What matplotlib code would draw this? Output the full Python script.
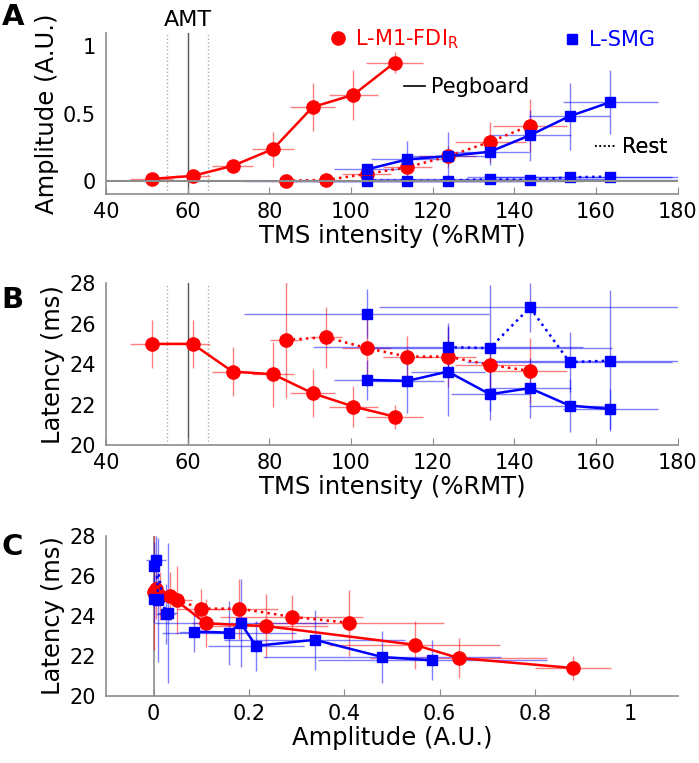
import matplotlib
matplotlib.use('Agg')
import matplotlib.pyplot as plt
from matplotlib.lines import Line2D
import numpy as np

plt.rcParams['font.family'] = ['DejaVu Sans']
plt.rcParams['mathtext.default'] = 'regular'

# L-M1-FDI_R, pegboard
m1_int_peg = [51.2, 61.2, 71.0, 80.9, 90.6, 100.6, 110.7]
m1_int_peg_sd = [5.3, 4.3, 5.0, 5.2, 5.6, 6.0, 7.0]
m1_amp_peg = [0.013, 0.035, 0.11, 0.235, 0.548, 0.64, 0.88]
m1_amp_peg_sd = [0.01, 0.02, 0.03, 0.13, 0.18, 0.185, 0.08]
m1_lat_peg = [25.0, 25.0, 23.63, 23.5, 22.56, 21.9, 21.4]
m1_lat_peg_sd = [1.2, 1.2, 1.2, 1.6, 1.2, 1.0, 0.6]

# L-M1-FDI_R, rest
m1_int_rest = [84.1, 93.9, 103.9, 113.8, 123.7, 134.1, 143.8]
m1_int_rest_sd = [4, 4, 6, 6, 7, 8.7, 9]
m1_amp_rest = [0.0, 0.005, 0.05, 0.10, 0.18, 0.29, 0.41]
m1_amp_rest_sd = [0.005, 0.01, 0.03, 0.05, 0.08, 0.15, 0.2]
m1_lat_rest = [25.2, 25.33, 24.79, 24.37, 24.37, 23.96, 23.66]
m1_lat_rest_sd = [2.9, 1.5, 1.7, 1.0, 1.5, 1.1, 1.65]

# L-SMG, pegboard
smg_int_peg = [103.9, 113.8, 123.7, 134.0, 143.8, 153.5, 163.5]
smg_int_peg_sd = [8, 9, 9, 9.5, 10, 10, 11.7]
smg_amp_peg = [0.084, 0.158, 0.183, 0.215, 0.338, 0.48, 0.585]
smg_amp_peg_sd = [0.03, 0.14, 0.18, 0.1, 0.19, 0.25, 0.24]
smg_lat_peg = [23.22, 23.17, 23.63, 22.51, 22.81, 21.95, 21.78]
smg_lat_peg_sd = [1.0, 1.6, 2.2, 1.25, 1.5, 1.3, 1.0]

# L-SMG, rest
smg_int_rest = [103.9, 113.8, 123.7, 134.0, 143.8, 153.5, 163.5]
smg_int_rest_sd = [30, 30, 33, 30, 37, 25, 30]
smg_amp_rest = [0.0, 0.0, 0.0, 0.01, 0.005, 0.025, 0.03]
smg_amp_rest_sd = [0.01, 0.01, 0.01, 0.02, 0.02, 0.02, 0.02]
smg_lat_rest = [26.49, np.nan, 24.84, 24.79, 26.8, 24.1, 24.17]
smg_lat_rest_sd = [1.2, np.nan, 1.2, 3.1, 1.2, 1.5, 3.5]

amt = 60
amt_sd = 5

RED = '#ff0000'
BLUE = '#0000ff'
GRAY = '#8c8c8c'
TFS = 15      # tick labels
LFS = 17.5    # axis labels

series = [
    (m1_int_peg, m1_int_peg_sd, m1_amp_peg, m1_amp_peg_sd, m1_lat_peg, m1_lat_peg_sd, RED, 'o', 9.5, '-'),
    (m1_int_rest, m1_int_rest_sd, m1_amp_rest, m1_amp_rest_sd, m1_lat_rest, m1_lat_rest_sd, RED, 'o', 9.5, ':'),
    (smg_int_peg, smg_int_peg_sd, smg_amp_peg, smg_amp_peg_sd, smg_lat_peg, smg_lat_peg_sd, BLUE, 's', 7.2, '-'),
    (smg_int_rest, smg_int_rest_sd, smg_amp_rest, smg_amp_rest_sd, smg_lat_rest, smg_lat_rest_sd, BLUE, 's', 7.2, ':'),
]

fig = plt.figure(figsize=(6.99, 7.63), dpi=100)
axA = fig.add_axes([0.1516, 0.7457, 0.818, 0.211])
axB = fig.add_axes([0.1516, 0.4168, 0.818, 0.212])
axC = fig.add_axes([0.1516, 0.0878, 0.818, 0.2097])


def style(ax):
    for s in ['top', 'right']:
        ax.spines[s].set_visible(False)
    for s in ['left', 'bottom']:
        ax.spines[s].set_color(GRAY)
        ax.spines[s].set_linewidth(1.2)
    ax.tick_params(axis='x', direction='in', length=5, color=GRAY, labelsize=TFS, pad=6)
    ax.tick_params(axis='y', direction='in', length=0, labelsize=TFS, pad=7)


def draw(ax, xi, yi, xe, ye):
    for s in series:
        x, y = np.array(s[xi], float), np.array(s[yi], float)
        xerr, yerr = np.array(s[xe], float), np.array(s[ye], float)
        ax.errorbar(x, y, xerr=xerr, yerr=yerr, fmt='none', ecolor=s[6],
                    elinewidth=1, alpha=0.5, capsize=0, zorder=2)
        ax.plot(x, y, color=s[6], ls=s[9], lw=1.8, marker=s[7], ms=s[8],
                mec=s[6], mfc=s[6], zorder=3)


def amt_lines(ax):
    for k, ls, c in [(-1, ':', '#aaaaaa'), (0, '-', '#555555'), (1, ':', '#aaaaaa')]:
        ax.axvline(amt + k * amt_sd, color=c, ls=ls, lw=1, zorder=1)


# A
style(axA)
axA.axhline(0, color=GRAY, lw=1.5, zorder=4)
amt_lines(axA)
draw(axA, 0, 2, 1, 3)
axA.set_xlim(40, 180)
axA.set_ylim(-0.1, 1.1)
axA.set_xticks(np.arange(40, 181, 20))
axA.set_yticks([0, 0.5, 1])
axA.set_yticklabels(['0', '0.5', '1'])
axA.set_xlabel('TMS intensity (%RMT)', fontsize=LFS, labelpad=1)
axA.set_ylabel('Amplitude (A.U.)', fontsize=LFS, labelpad=3)
axA.text(amt, 1.12, 'AMT', ha='center', va='bottom', fontsize=16)

# B
style(axB)
amt_lines(axB)
draw(axB, 0, 4, 1, 5)
axB.set_xlim(40, 180)
axB.set_ylim(20, 28)
axB.set_xticks(np.arange(40, 181, 20))
axB.set_yticks(np.arange(20, 29, 2))
axB.set_xlabel('TMS intensity (%RMT)', fontsize=LFS, labelpad=1)
axB.set_ylabel('Latency (ms)', fontsize=LFS, labelpad=3)

# C
style(axC)
axC.axvline(0, color=GRAY, lw=1.2, zorder=1)
draw(axC, 2, 4, 3, 5)
axC.set_xlim(-0.1, 1.1)
axC.set_ylim(20, 28)
axC.set_xticks([0, 0.2, 0.4, 0.6, 0.8, 1])
axC.set_xticklabels(['0', '0.2', '0.4', '0.6', '0.8', '1'])
axC.set_yticks(np.arange(20, 29, 2))
axC.set_xlabel('Amplitude (A.U.)', fontsize=LFS, labelpad=1)
axC.set_ylabel('Latency (ms)', fontsize=LFS, labelpad=3)

# panel letters
for lab, y in [('A', 0.978), ('B', 0.607), ('C', 0.283)]:
    fig.text(0.002, y, lab, fontsize=21, fontweight='bold', va='center', ha='left')

# legends
kw = dict(frameon=False, borderpad=0, borderaxespad=0, handlelength=1.0,
          handletextpad=0.3, loc='center left', bbox_transform=fig.transFigure)
leg_items = [
    (Line2D([], [], color=RED, marker='o', ms=9.5, ls='none'), 'L-M1-FDI$_R$', RED, (328 / 699, 1 - 39 / 763)),
    (Line2D([], [], color=BLUE, marker='s', ms=7.2, ls='none'), 'L-SMG', BLUE, (562 / 699, 1 - 40 / 763)),
    (Line2D([], [], color='black', lw=1.2, ls='-'), 'Pegboard', 'black', (404 / 699, 1 - 87 / 763)),
    (Line2D([], [], color='black', lw=1.2, ls=':'), 'Rest', 'black', (595 / 699, 1 - 147 / 763)),
]
for h, lab, col, pos in leg_items:
    lg = axA.legend([h], [lab], bbox_to_anchor=pos, fontsize=15, labelcolor=col, **kw)
    axA.add_artist(lg)

fig.savefig('out.png', dpi=100)
